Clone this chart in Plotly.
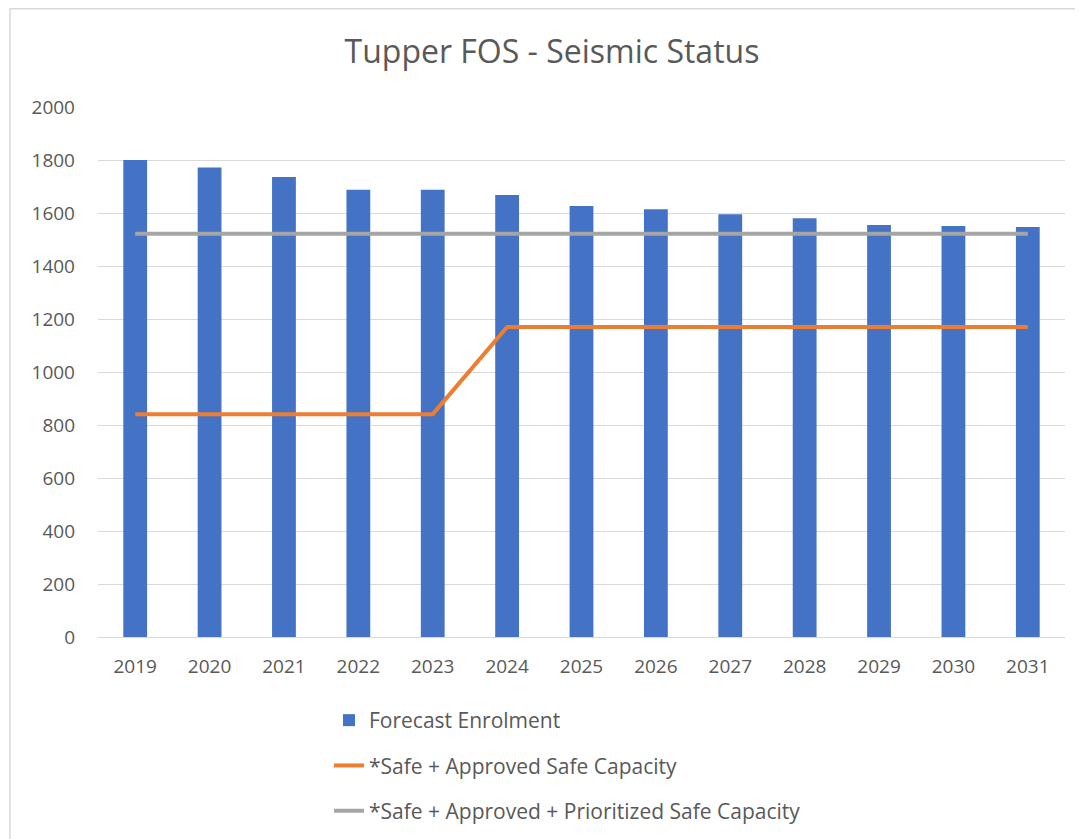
import plotly.graph_objects as go

years = ["2019", "2020", "2021", "2022", "2023", "2024", "2025", "2026", "2027", "2028", "2029", "2030", "2031"]
enrolment = [1800, 1772, 1736, 1688, 1688, 1668, 1626, 1614, 1595, 1580, 1555, 1551, 1547]
safe_approved = [841, 841, 841, 841, 841, 1170, 1170, 1170, 1170, 1170, 1170, 1170, 1170]
safe_prioritized = [1522] * 13
y_ticks = [0, 200, 400, 600, 800, 1000, 1200, 1400, 1600, 1800, 2000]

FONT = "Open Sans"
TXT = "#595959"

# page body has an 8px margin; figure is laid out in page coords minus 8
W, H = 1075, 831
L, T = 90, 99
PW, PH = 967, 530
R, B = W - L - PW, H - T - PH
bottom = T + PH

fig = go.Figure()
fig.add_trace(go.Bar(x=years, y=enrolment, name="Forecast Enrolment",
                     marker=dict(color="#4472C4", line=dict(width=0)),
                     legendgroup="a"))
fig.add_trace(go.Scatter(x=years, y=safe_approved, name="*Safe + Approved Safe Capacity",
                         mode="lines", line=dict(color="#ED7D31", width=4),
                         legendgroup="b"))
fig.add_trace(go.Scatter(x=years, y=safe_prioritized,
                         name="*Safe + Approved + Prioritized Safe Capacity",
                         mode="lines", line=dict(color="#A5A5A5", width=4),
                         legendgroup="c"))

fig.update_layout(
    width=W, height=H,
    margin=dict(l=L, r=R, t=T, b=B, pad=0, autoexpand=False),
    paper_bgcolor="white", plot_bgcolor="white",
    title=dict(text="Tupper FOS - Seismic Status", x=544 / W, xanchor="center",
               y=1 - 44 / H, yanchor="middle",
               font=dict(family=FONT, size=32, color=TXT)),
    font=dict(family=FONT, color=TXT),
    bargap=0.68,
    showlegend=True,
    legend=dict(orientation="v", x=(329 - 8 - L) / PW, xanchor="left",
                y=(bottom - (700 - 8)) / PH, yanchor="top",
                font=dict(family=FONT, size=21, color=TXT),
                traceorder="grouped", tracegroupgap=15,
                bgcolor="rgba(0,0,0,0)"),
    xaxis=dict(type="category", showgrid=False, showline=True, linecolor="#D9D9D9",
               linewidth=1, ticks="", ticklabelstandoff=12,
               tickfont=dict(family=FONT, size=19, color=TXT)),
    yaxis=dict(range=[0, 2000], tickvals=y_ticks, showgrid=True, gridcolor="#D9D9D9",
               gridwidth=1, zeroline=False, showline=False, ticks="",
               ticklabelstandoff=22,
               tickfont=dict(family=FONT, size=19, color=TXT)),
    shapes=[dict(type="rect", xref="paper", yref="paper",
                 x0=(2 - L) / PW, x1=(W + 20 - L) / PW,
                 y0=(bottom - (H + 20)) / PH, y1=(bottom - 0.75) / PH,
                 line=dict(color="#D9D9D9", width=1.5), fillcolor="rgba(0,0,0,0)",
                 layer="below")],
)

fig.write_html("out.html")
